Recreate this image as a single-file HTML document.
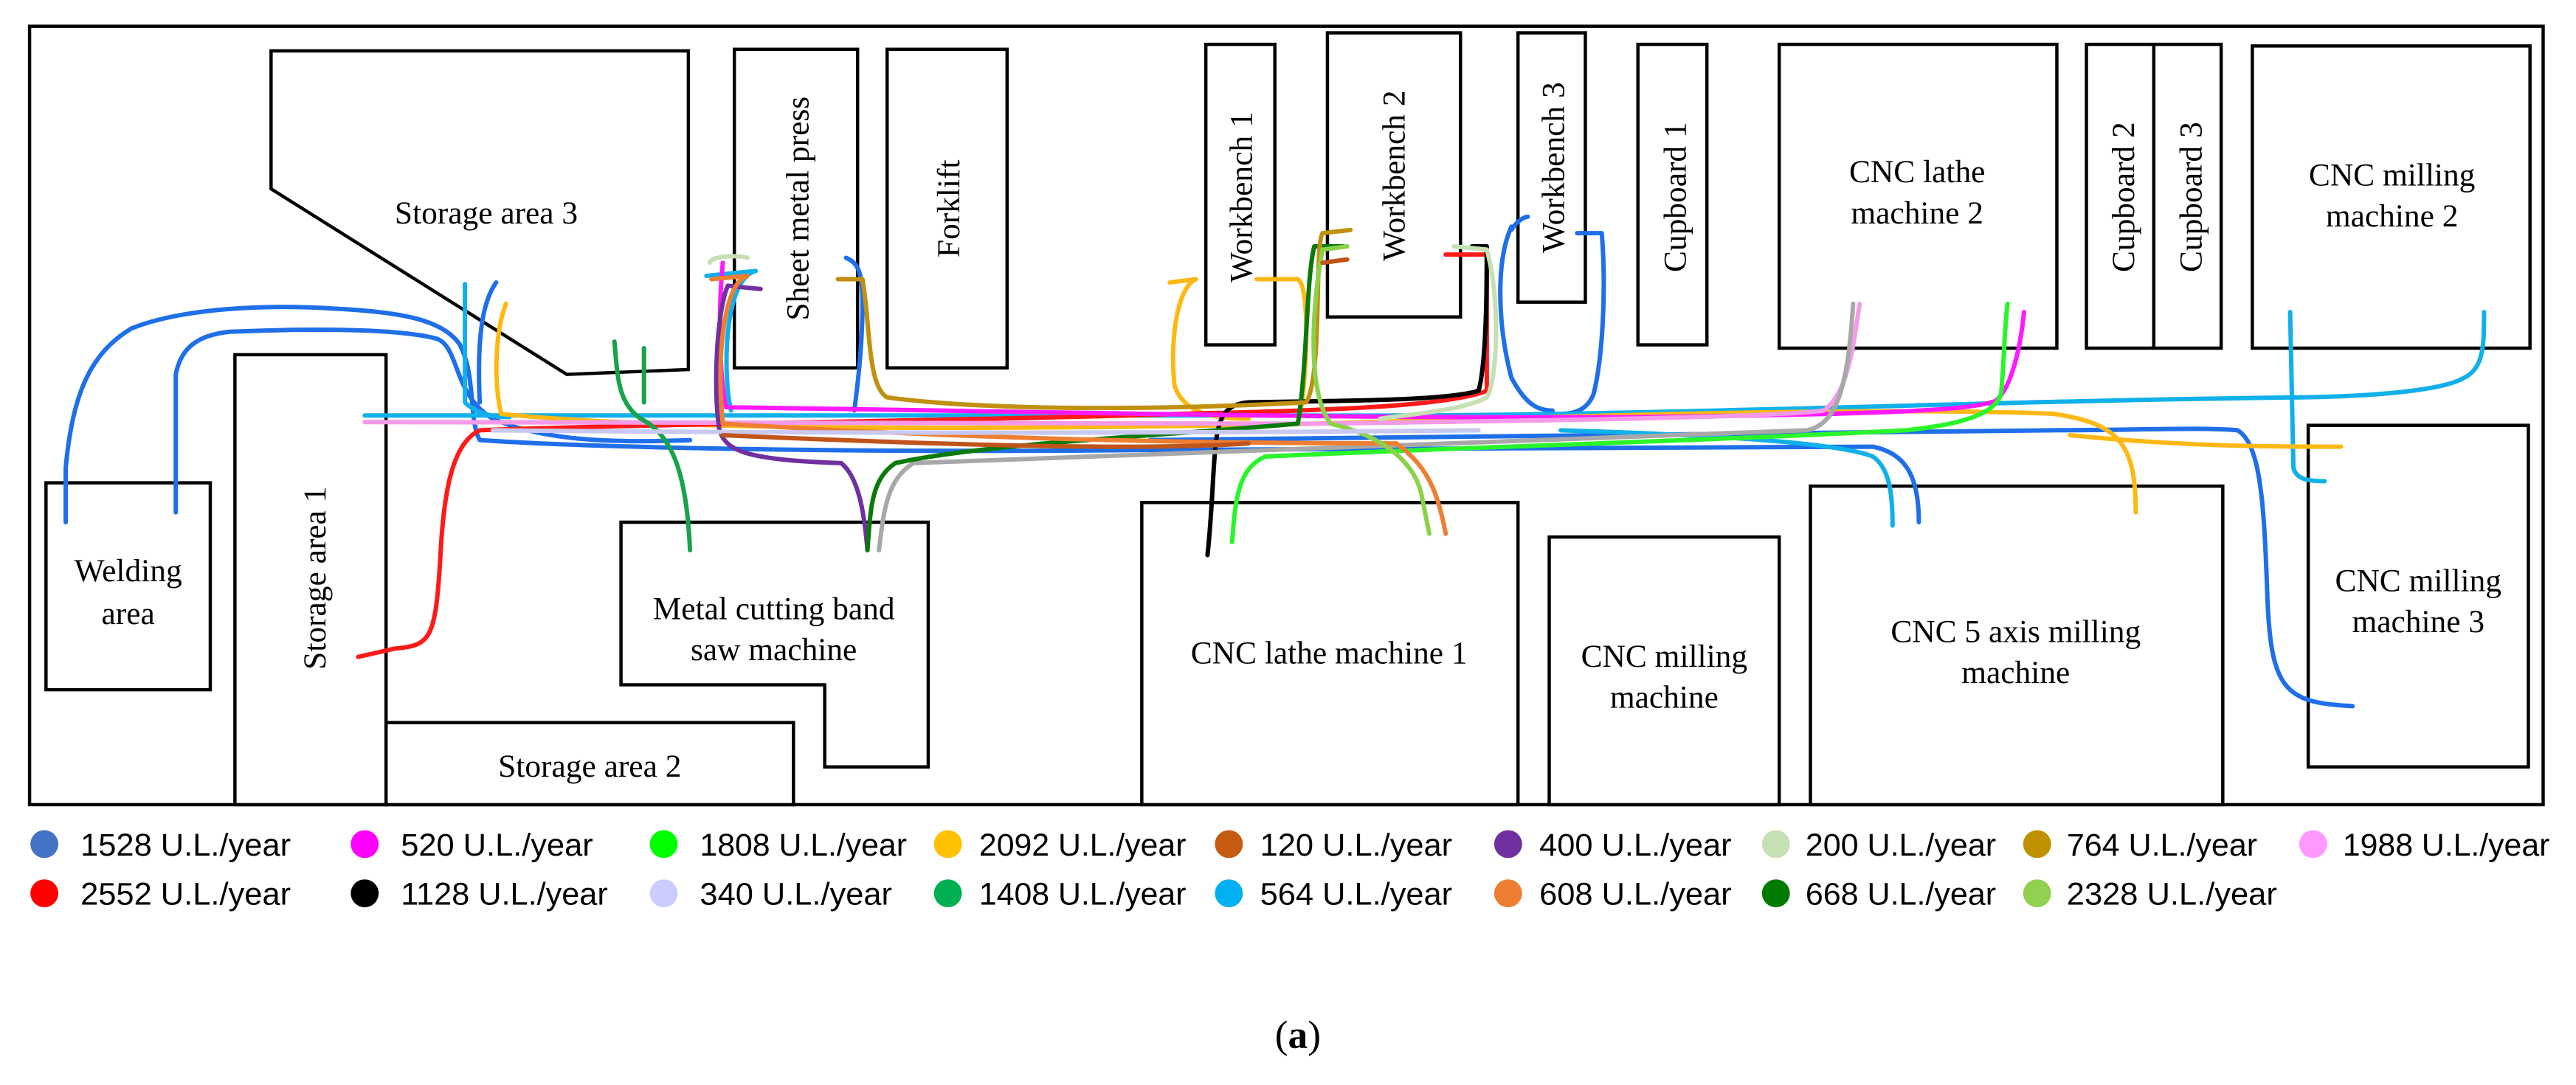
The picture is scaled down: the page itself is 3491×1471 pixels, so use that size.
<!DOCTYPE html>
<html><head><meta charset="utf-8"><style>
html,body{margin:0;padding:0;background:#fff}
svg{display:block}
.b{fill:#fff;stroke:#000;stroke-width:2}
.t{font-family:"Liberation Serif",serif;font-size:19.5px;fill:#000}
.p{fill:none;stroke-width:2.7;stroke-linecap:round;stroke-linejoin:round}
.l{font-family:"Liberation Sans",sans-serif;font-size:19px;fill:#000}
</style></head><body>
<svg width="3491" height="1471" viewBox="0 0 1568 660.7" xmlns="http://www.w3.org/2000/svg">
<rect x="18" y="16" width="1530" height="474" class="b"/>
<rect x="28" y="294" width="100" height="126" class="b"/>
<rect x="143" y="216" width="92" height="274" class="b"/>
<rect x="235" y="440" width="248" height="50" class="b"/>
<polygon points="165,31 419,31 419,225 345,228 165,115" class="b"/>
<rect x="447" y="30" width="75" height="194" class="b"/>
<rect x="540" y="30" width="73" height="194" class="b"/>
<polygon points="378,318 565,318 565,467 502,467 502,417 378,417" class="b"/>
<rect x="734" y="27" width="42" height="183" class="b"/>
<rect x="808" y="20" width="81" height="173" class="b"/>
<rect x="924" y="20" width="41" height="164" class="b"/>
<rect x="997" y="27" width="42" height="183" class="b"/>
<rect x="1083" y="27" width="169" height="185" class="b"/>
<rect x="1270" y="27" width="82" height="185" class="b"/>
<line x1="1311" y1="27" x2="1311" y2="212" stroke="#000" stroke-width="2"/>
<rect x="1371" y="28" width="169" height="184" class="b"/>
<rect x="695" y="306" width="229" height="184" class="b"/>
<rect x="943" y="327" width="140" height="163" class="b"/>
<rect x="1102" y="296" width="251" height="194" class="b"/>
<rect x="1405" y="259" width="134" height="208" class="b"/>

<text class="t" x="78" y="354" text-anchor="middle">Welding</text>
<text class="t" x="78" y="380" text-anchor="middle">area</text>
<text class="t" transform="translate(198,352) rotate(-90)" text-anchor="middle">Storage area 1</text>
<text class="t" x="359" y="473" text-anchor="middle">Storage area 2</text>
<text class="t" x="296" y="136" text-anchor="middle">Storage area 3</text>
<text class="t" transform="translate(492,127) rotate(-90)" text-anchor="middle">Sheet metal press</text>
<text class="t" transform="translate(584,127) rotate(-90)" text-anchor="middle">Forklift</text>
<text class="t" x="471" y="377" text-anchor="middle">Metal cutting band</text>
<text class="t" x="471" y="402" text-anchor="middle">saw machine</text>
<text class="t" transform="translate(762,120) rotate(-90)" text-anchor="middle">Workbench 1</text>
<text class="t" transform="translate(855,107) rotate(-90)" text-anchor="middle">Workbench 2</text>
<text class="t" transform="translate(952,102) rotate(-90)" text-anchor="middle">Workbench 3</text>
<text class="t" transform="translate(1026,120) rotate(-90)" text-anchor="middle">Cupboard 1</text>
<text class="t" x="1167" y="111" text-anchor="middle">CNC lathe</text>
<text class="t" x="1167" y="136" text-anchor="middle">machine 2</text>
<text class="t" transform="translate(1299,120) rotate(-90)" text-anchor="middle">Cupboard 2</text>
<text class="t" transform="translate(1340,120) rotate(-90)" text-anchor="middle">Cupboard 3</text>
<text class="t" x="1456" y="113" text-anchor="middle">CNC milling</text>
<text class="t" x="1456" y="138" text-anchor="middle">machine 2</text>
<text class="t" x="809" y="404" text-anchor="middle">CNC lathe machine 1</text>
<text class="t" x="1013" y="406" text-anchor="middle">CNC milling</text>
<text class="t" x="1013" y="431" text-anchor="middle">machine</text>
<text class="t" x="1227" y="391" text-anchor="middle">CNC 5 axis milling</text>
<text class="t" x="1227" y="416" text-anchor="middle">machine</text>
<text class="t" x="1472" y="360" text-anchor="middle">CNC milling</text>
<text class="t" x="1472" y="385" text-anchor="middle">machine 3</text>

<path class="p" stroke="#1f6fe8" d="M40,318 L40,285 C44,240 55,215 80,200 C110,188 160,185 205,188 C245,190 270,195 280,210 C290,230 285,255 292,268 C350,272 500,276 700,274 C900,272 1050,272 1140,272 C1160,276 1168,290 1168,318"/>
<path class="p" stroke="#1f6fe8" d="M107,312 L107,228 C110,212 120,204 140,202 C190,200 240,200 265,206 C280,210 275,240 300,255 C330,268 370,270 420,268"/>
<path class="p" stroke="#1f6fe8" d="M700,268 C900,266 1100,264 1250,262 C1300,262 1340,260 1362,262 C1375,270 1378,300 1380,360 C1382,420 1390,428 1432,430"/>
<path class="p" stroke="#1f6fe8" d="M920,140 C925,132 930,132 930,132 M920,138 C910,160 912,200 920,230 C928,245 935,250 945,250 M960,142 L975,142 C978,180 975,220 970,240 C966,250 958,252 950,252"/>
<path class="p" stroke="#1f6fe8" d="M515,157 C522,160 525,165 525,185 C525,210 522,235 520,250 M302,172 C295,182 290,200 292,245"/>
<path class="p" stroke="#12b0ea" d="M222,253 C400,252 600,252 800,253 C1000,254 1200,244 1400,242 C1460,241 1490,236 1500,230 C1512,224 1512,210 1512,190"/>
<path class="p" stroke="#12b0ea" d="M283,173 L283,245 C290,252 300,254 310,254 M1394,190 L1396,285 C1398,292 1405,293 1415,293 M1152,320 C1152,300 1150,285 1140,278 C1120,270 1050,265 950,262 M430,168 L460,165 C440,170 440,230 445,250"/>
<path class="p" stroke="#fdb813" d="M308,185 C302,200 300,230 305,252 C400,262 600,262 800,258 C1000,252 1150,248 1250,252 C1290,258 1300,270 1300,312 M1260,265 C1330,272 1380,272 1425,272 M712,172 L728,170 C716,175 712,210 715,235 C720,250 735,255 760,255 M765,170 L790,170 C798,175 795,230 792,248"/>
<path class="p" stroke="#ff1a1a" d="M218,400 L240,395 C262,393 265,390 268,340 C270,300 275,270 292,262 C400,258 600,256 720,252 C800,250 880,248 905,238 L905,155 L880,155"/>
<path class="p" stroke="#000" d="M735,338 C738,310 738,290 740,270 C742,255 745,246 760,245 C820,244 880,244 900,238 C905,220 905,170 905,150 L896,150"/>
<path class="p" stroke="#ff19ff" d="M440,160 C437,190 438,230 442,248 C600,250 800,255 1000,254 C1150,252 1200,250 1215,244 C1225,235 1230,210 1232,190"/>
<path class="p" stroke="#2af52a" d="M750,330 C752,300 755,285 770,278 C900,272 1050,268 1160,262 C1200,258 1215,250 1218,240 C1220,220 1220,200 1222,185"/>
<path class="p" stroke="#f49ae8" d="M222,257 C400,258 600,258 800,258 C950,256 1080,254 1110,250 C1125,240 1128,210 1132,185"/>
<path class="p" stroke="#a8a8a8" d="M535,335 C538,310 540,292 556,282 C700,276 900,270 1100,262 C1120,258 1125,230 1128,185"/>
<path class="p" stroke="#7030a0" d="M463,176 L443,174 C436,190 434,240 438,262 C442,275 455,280 512,282 C522,290 526,310 528,335"/>
<path class="p" stroke="#0a7a0a" d="M528,335 C530,310 530,292 545,282 C600,270 700,266 790,258 C796,220 795,170 800,150 L818,150"/>
<path class="p" stroke="#c09010" d="M510,170 L525,170 C530,200 528,235 540,242 C600,250 700,250 795,245 C805,230 800,150 805,142 L822,140"/>
<path class="p" stroke="#16a34a" d="M374,208 C376,230 376,245 390,255 C410,265 418,290 420,335"/>
<path class="p" stroke="#16a34a" d="M392,212 L392,245"/>
<path class="p" stroke="#ee7e32" d="M433,170 L455,168 C440,172 436,220 440,258 C600,268 750,270 850,270 C870,285 875,300 880,325"/>
<path class="p" stroke="#8bd14a" d="M820,150 L805,152 C798,190 796,240 810,258 C840,265 860,280 865,300 L870,325"/>
<path class="p" stroke="#c6e0b4" d="M432,160 C432,156 450,155 455,157 M885,150 L905,152 C913,180 912,230 905,242 C890,250 860,252 840,255"/>
<path class="p" stroke="#c8c8f0" d="M300,262 C500,264 700,264 900,262"/>
<path class="p" stroke="#c0541a" d="M820,158 L805,160 M440,265 C600,272 700,274 760,270"/>

<g class="l">
<circle cx="27" cy="514" r="8.5" fill="#4472c4"/><text x="49" y="521" textLength="128" lengthAdjust="spacingAndGlyphs">1528 U.L./year</text>
<circle cx="222" cy="514" r="8.5" fill="#ff00ff"/><text x="244" y="521" textLength="117" lengthAdjust="spacingAndGlyphs">520 U.L./year</text>
<circle cx="404" cy="514" r="8.5" fill="#00ff00"/><text x="426" y="521" textLength="126" lengthAdjust="spacingAndGlyphs">1808 U.L./year</text>
<circle cx="577" cy="514" r="8.5" fill="#ffc000"/><text x="596" y="521" textLength="126" lengthAdjust="spacingAndGlyphs">2092 U.L./year</text>
<circle cx="748" cy="514" r="8.5" fill="#c55a11"/><text x="767" y="521" textLength="117" lengthAdjust="spacingAndGlyphs">120 U.L./year</text>
<circle cx="918" cy="514" r="8.5" fill="#7030a0"/><text x="937" y="521" textLength="117" lengthAdjust="spacingAndGlyphs">400 U.L./year</text>
<circle cx="1081" cy="514" r="8.5" fill="#c5e0b4"/><text x="1099" y="521" textLength="116" lengthAdjust="spacingAndGlyphs">200 U.L./year</text>
<circle cx="1240" cy="514" r="8.5" fill="#bf9000"/><text x="1258" y="521" textLength="116" lengthAdjust="spacingAndGlyphs">764 U.L./year</text>
<circle cx="1408" cy="514" r="8.5" fill="#ff99ff"/><text x="1426" y="521" textLength="126" lengthAdjust="spacingAndGlyphs">1988 U.L./year</text>
<circle cx="27" cy="544" r="8.5" fill="#ff0000"/><text x="49" y="551" textLength="128" lengthAdjust="spacingAndGlyphs">2552 U.L./year</text>
<circle cx="222" cy="544" r="8.5" fill="#000"/><text x="244" y="551" textLength="126" lengthAdjust="spacingAndGlyphs">1128 U.L./year</text>
<circle cx="404" cy="544" r="8.5" fill="#ccccff"/><text x="426" y="551" textLength="117" lengthAdjust="spacingAndGlyphs">340 U.L./year</text>
<circle cx="577" cy="544" r="8.5" fill="#00b050"/><text x="596" y="551" textLength="126" lengthAdjust="spacingAndGlyphs">1408 U.L./year</text>
<circle cx="748" cy="544" r="8.5" fill="#00b0f0"/><text x="767" y="551" textLength="117" lengthAdjust="spacingAndGlyphs">564 U.L./year</text>
<circle cx="918" cy="544" r="8.5" fill="#ed7d31"/><text x="937" y="551" textLength="117" lengthAdjust="spacingAndGlyphs">608 U.L./year</text>
<circle cx="1081" cy="544" r="8.5" fill="#007a00"/><text x="1099" y="551" textLength="116" lengthAdjust="spacingAndGlyphs">668 U.L./year</text>
<circle cx="1240" cy="544" r="8.5" fill="#92d050"/><text x="1258" y="551" textLength="128" lengthAdjust="spacingAndGlyphs">2328 U.L./year</text>
</g>
<text x="790" y="638" text-anchor="middle" font-family="Liberation Serif,serif" font-size="24"><tspan>(</tspan><tspan font-weight="bold">a</tspan><tspan>)</tspan></text>
</svg>
</body></html>
